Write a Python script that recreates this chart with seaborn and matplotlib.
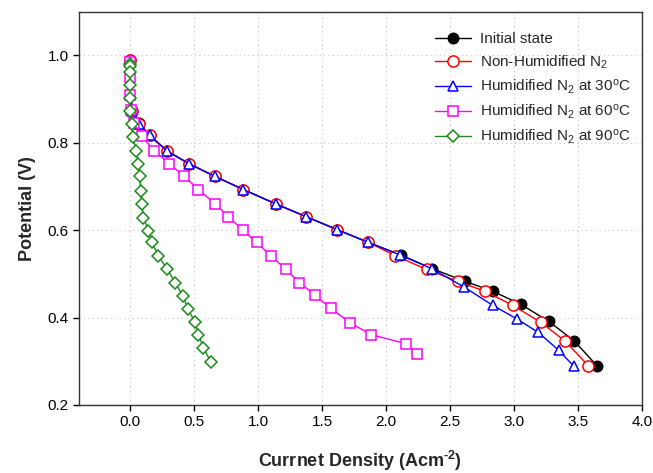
import matplotlib
matplotlib.use("Agg")
import matplotlib.pyplot as plt
import seaborn as sns
import pandas as pd

sns.set_style("ticks")
plt.rcParams['font.family'] = ['Liberation Sans', 'DejaVu Sans']
plt.rcParams['mathtext.fontset'] = 'custom'
plt.rcParams['mathtext.rm'] = 'Liberation Sans'
plt.rcParams['mathtext.it'] = 'Liberation Sans'
plt.rcParams['mathtext.bf'] = 'Liberation Sans:bold'

# Data
initial_x = [0.0, 0.013, 0.07, 0.151, 0.291, 0.461, 0.664, 0.885, 1.14, 1.375, 1.62, 1.862, 2.117, 2.36, 2.617, 2.836, 3.055, 3.273, 3.469, 3.648]
initial_y = [0.99, 0.874, 0.845, 0.817, 0.781, 0.752, 0.723, 0.693, 0.66, 0.631, 0.601, 0.572, 0.543, 0.512, 0.483, 0.46, 0.43, 0.391, 0.347, 0.29]

nonhum_x = [0.0, 0.013, 0.07, 0.151, 0.291, 0.461, 0.664, 0.885, 1.14, 1.375, 1.62, 1.862, 2.07, 2.318, 2.56, 2.773, 2.99, 3.21, 3.40, 3.58]
nonhum_y = [0.99, 0.874, 0.844, 0.817, 0.781, 0.752, 0.723, 0.693, 0.66, 0.631, 0.601, 0.572, 0.542, 0.51, 0.483, 0.46, 0.428, 0.389, 0.346, 0.29]

hum30_x = [0.0, 0.013, 0.07, 0.151, 0.291, 0.461, 0.664, 0.885, 1.14, 1.375, 1.62, 1.862, 2.112, 2.357, 2.609, 2.834, 3.021, 3.19, 3.35, 3.469]
hum30_y = [0.985, 0.874, 0.844, 0.817, 0.781, 0.752, 0.723, 0.693, 0.66, 0.631, 0.601, 0.572, 0.543, 0.512, 0.470, 0.428, 0.397, 0.366, 0.325, 0.288]

hum60_x = [0.0, 0.0, 0.0, 0.005, 0.03, 0.09, 0.19, 0.305, 0.424, 0.534, 0.664, 0.768, 0.88, 0.99, 1.099, 1.219, 1.323, 1.445, 1.568, 1.719, 1.883, 2.156, 2.245]
hum60_y = [0.985, 0.95, 0.91, 0.875, 0.845, 0.815, 0.782, 0.752, 0.723, 0.693, 0.66, 0.631, 0.60, 0.572, 0.541, 0.51, 0.48, 0.451, 0.421, 0.388, 0.361, 0.34, 0.317]

hum90_x = [0.0, 0.0, 0.0, 0.0, 0.0, 0.0, 0.013, 0.021, 0.047, 0.065, 0.073, 0.084, 0.091, 0.104, 0.143, 0.170, 0.221, 0.291, 0.352, 0.412, 0.451, 0.508, 0.534, 0.573, 0.630]
hum90_y = [0.98, 0.975, 0.963, 0.932, 0.903, 0.874, 0.844, 0.813, 0.782, 0.752, 0.723, 0.690, 0.660, 0.629, 0.598, 0.572, 0.541, 0.510, 0.480, 0.449, 0.420, 0.389, 0.361, 0.330, 0.299]

labels = ["Initial state", "Non-Humidified N$_2$", "Humidified N$_2$ at 30$^{\\mathrm{o}}$C",
          "Humidified N$_2$ at 60$^{\\mathrm{o}}$C", "Humidified N$_2$ at 90$^{\\mathrm{o}}$C"]
xs = [initial_x, nonhum_x, hum30_x, hum60_x, hum90_x]
ys = [initial_y, nonhum_y, hum30_y, hum60_y, hum90_y]
colors = ["black", "red", "blue", "magenta", "#1a8a1a"]
markers = ["o", "o", "^", "s", "D"]
faces = ["black", "white", "white", "white", "white"]
msizes = [7.5, 8, 7.5, 7, 6.5]

fig = plt.figure(figsize=(6.53, 4.73), dpi=100)
ax = fig.add_axes([0.121, 0.144, 0.862, 0.831])

for x, y, lab, c, m, fc, ms in zip(xs, ys, labels, colors, markers, faces, msizes):
    df = pd.DataFrame({"x": x, "y": y})
    sns.lineplot(data=df, x="x", y="y", ax=ax, sort=False, estimator=None,
                 color=c, marker=m, markersize=ms, markerfacecolor=fc,
                 markeredgecolor=c, markeredgewidth=1.1, linewidth=1.0, label=lab)

ax.set_xlim(-0.4, 4.0)
ax.set_ylim(0.2, 1.1)
ax.set_xticks([0.0, 0.5, 1.0, 1.5, 2.0, 2.5, 3.0, 3.5, 4.0])
ax.set_yticks([0.2, 0.4, 0.6, 0.8, 1.0])
ax.set_xticklabels(["0.0", "0.5", "1.0", "1.5", "2.0", "2.5", "3.0", "3.5", "4.0"])
ax.set_yticklabels(["0.2", "0.4", "0.6", "0.8", "1.0"])
ax.tick_params(direction="out", length=4, width=1, labelsize=11, colors="black")
ax.grid(True, linestyle=(0, (1, 3)), color="#c4c4c4", linewidth=0.8)
for s in ax.spines.values():
    s.set_color("#333333")
    s.set_linewidth(1.0)

ax.set_xlabel("Currnet Density (Acm$^{\\mathbf{\u20102}}$)",
              fontsize=13, fontweight="bold", labelpad=14)
ax.set_ylabel("Potential (V)", fontsize=13, fontweight="bold", labelpad=8)

leg = ax.legend(loc="upper right", frameon=False, fontsize=11, handlelength=2.4,
                handletextpad=0.6, borderaxespad=0.3, labelspacing=0.45,
                bbox_to_anchor=(1.0, 0.975))

fig.savefig("out.png", dpi=100)
